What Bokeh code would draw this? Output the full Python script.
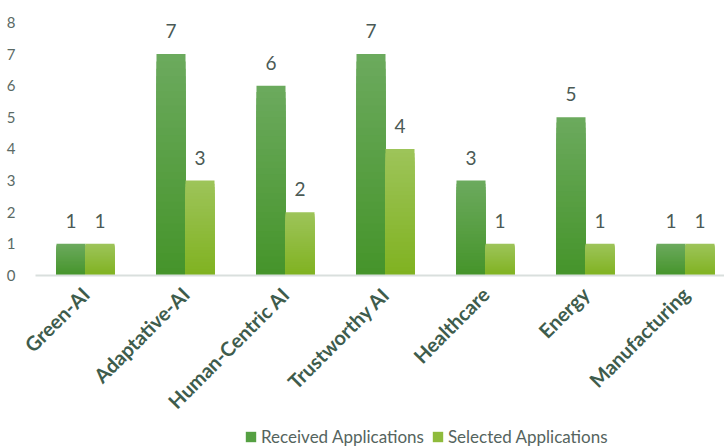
import numpy as np
from bokeh.plotting import figure
from bokeh.layouts import column
from bokeh.models import Range1d, FixedTicker, Legend, LegendItem, ColumnDataSource, LabelSet
from bokeh.core.properties import value
from bokeh.embed import file_html
from bokeh.resources import INLINE

categories = ["Green-AI", "Adaptative-AI", "Human-Centric AI", "Trustworthy AI",
              "Healthcare", "Energy", "Manufacturing"]
received = [1, 7, 6, 7, 3, 5, 1]
selected = [1, 3, 2, 4, 1, 1, 1]
series_names = ["Received Applications", "Selected Applications"]
y_ticks = [0, 1, 2, 3, 4, 5, 6, 7, 8]

FONT = "Lato"
BAR_W = 0.29
N_SLICES = 30
# (bottom colour, top colour) for each series
grad = [((0x45, 0x94, 0x2a), (0x6c, 0xaa, 0x5e)),
        ((0x7f, 0xb2, 0x20), (0x9e, 0xc4, 0x5a))]
legend_colors = ["#55a042", "#8fbb3c"]

p = figure(width=724, height=424, output_backend="svg", toolbar_location=None,
           x_range=Range1d(-0.5, 6.39), y_range=Range1d(0, 8.44),
           min_border_left=35, min_border_right=0, min_border_top=8,
           min_border_bottom=149)
p.outline_line_color = None
p.grid.visible = False
p.background_fill_color = "white"
p.border_fill_color = "white"

def hexc(c):
    return "#%02x%02x%02x" % tuple(int(round(v)) for v in c)

for s, vals in enumerate([received, selected]):
    offset = (-0.5 + s) * BAR_W
    lefts, rights, tops, cols = [], [], [], []
    c0, c1 = np.array(grad[s][0], float), np.array(grad[s][1], float)
    # paint from the full bar (top colour) down to the smallest (bottom colour)
    for k in range(N_SLICES - 1, -1, -1):
        t = (k + 0.5) / N_SLICES
        for i, v in enumerate(vals):
            lefts.append(i + offset - BAR_W / 2)
            rights.append(i + offset + BAR_W / 2)
            tops.append(v * (k + 1) / N_SLICES)
            cols.append(hexc(c0 + (c1 - c0) * t))
    src = ColumnDataSource(dict(left=lefts, right=rights, bottom=[0] * len(tops),
                                top=tops, color=cols))
    p.quad(left="left", right="right", bottom="bottom", top="top", source=src,
           fill_color="color", line_color=None)

    lsrc = ColumnDataSource(dict(x=[i + offset for i in range(len(vals))], y=vals,
                                 t=[str(v) for v in vals]))
    p.add_layout(LabelSet(x="x", y="y", text="t", source=lsrc, y_offset=16,
                          text_align="center", text_baseline="alphabetic",
                          text_font=value(FONT), text_font_size="19px",
                          text_color="#4b5a55"))

# axes
p.yaxis.ticker = FixedTicker(ticks=y_ticks)
p.yaxis.axis_line_color = None
p.yaxis.major_tick_line_color = None
p.yaxis.minor_tick_line_color = None
p.yaxis.major_label_standoff = 14
p.yaxis.major_label_text_font = FONT
p.yaxis.major_label_text_font_size = "15px"
p.yaxis.major_label_text_color = "#5a6a65"

p.xaxis.ticker = FixedTicker(ticks=list(range(len(categories))))
p.xaxis.major_label_overrides = {i: c for i, c in enumerate(categories)}
p.xaxis.axis_line_color = "#d9dfdd"
p.xaxis.axis_line_width = 2
p.xaxis.major_tick_line_color = None
p.xaxis.minor_tick_line_color = None
p.xaxis.major_label_orientation = np.pi / 4
p.xaxis.major_label_standoff = 9
p.xaxis.major_label_text_font = FONT
p.xaxis.major_label_text_font_style = "bold"
p.xaxis.major_label_text_font_size = "20px"
p.xaxis.major_label_text_color = "#3e5c4c"

# legend strip
lf = figure(width=724, height=23, output_backend="svg", toolbar_location=None,
            x_range=Range1d(0, 724), y_range=Range1d(0, 23),
            x_axis_type=None, y_axis_type=None,
            min_border_left=0, min_border_right=0, min_border_top=0, min_border_bottom=0)
lf.outline_line_color = None
lf.grid.visible = False
items = []
for name, col in zip(series_names, legend_colors):
    r = lf.quad(left=[-50], right=[-40], bottom=[-50], top=[-40],
                fill_color=col, line_color=None)
    items.append(LegendItem(label=name, renderers=[r]))
legend = Legend(items=items, orientation="horizontal", location=(209, 0),
                padding=0, margin=0, spacing=7, label_standoff=4,
                glyph_width=13, glyph_height=13, label_height=16,
                border_line_color=None, background_fill_alpha=0,
                label_text_font=FONT, label_text_font_size="17px",
                label_text_color="#55645e")
lf.add_layout(legend, "center")

layout = column(p, lf, spacing=0)
open("out.html", "w").write(file_html(layout, INLINE))
